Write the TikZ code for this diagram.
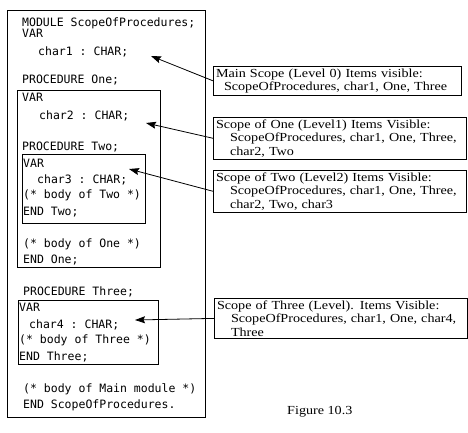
\documentclass[tikz,border=0pt]{standalone}
\usepackage{fontspec}
\setmainfont[FakeStretch=1.15]{Liberation Serif}
\setmonofont{DejaVu Sans Mono}
\usetikzlibrary{arrows, arrows.meta, positioning, calc}
\newcommand{\notefont}{\fontsize{12.3}{13.5}\selectfont\spaceskip=5pt plus 1pt\relax}

\tikzset{
    code/.style={anchor=base west, inner sep=0pt, font=\ttfamily\fontsize{11.5}{14}\selectfont},
    scopebox/.style={draw, line width=1pt, anchor=north west, text width=#1, align=left,
        inner xsep=2.5pt, inner ysep=2pt, font=\notefont},
    pointer/.style={-{Stealth[length=10pt,width=7pt,inset=1.5pt]}, line width=0.8pt},
    frame/.style={line width=1pt}
}

\begin{document}
\begin{tikzpicture}[x=1pt, y=-1pt]
    \useasboundingbox (0,0) rectangle (468,432);

    % Draw the nested scope frames
    \draw[frame] (7,10) rectangle (205,417);
    \draw[frame] (17,90) rectangle (160,267);
    \draw[frame] (22,154) rectangle (145,223);
    \draw[frame] (18,300) rectangle (158,364);

    % Draw the program text
    \foreach \y/\x/\txt in {26/22/MODULE ScopeOfProcedures;, 37/22/VAR, 55/38/char1 : CHAR;,
        83/22/PROCEDURE One;, 101/22/VAR, 119/39/char2 : CHAR;,
        150/22/PROCEDURE Two;, 167/23/VAR, 183/37/char3 : CHAR;, 198/23/(* body of Two *), 215/23/END Two;,
        247/23/(* body of One *), 263/23/END One;,
        295/23/PROCEDURE Three;, 311/19/VAR, 328/29/char4 : CHAR;, 343/19/(* body of Three *), 360/19/END Three;,
        392/23/(* body of Main module *), 408/23/END ScopeOfProcedures.} {
        \node[code] (line\y) at (\x,\y) {\txt};
    }

    % Points the arrows aim at
    \coordinate (main) at (151,56);
    \coordinate (one) at (146,123);
    \coordinate (two) at (129,169);
    \coordinate (three) at (135,320);

    % Add the scope notes
    \node[scopebox=243pt] (mainnote) at (213,66)
        {Main Scope (Level 0) Items visible:\\\hspace*{8pt}ScopeOfProcedures, char1, One, Three};
    \node[scopebox=248pt] (onenote) at (213,117)
        {Scope of One (Level1) Items Visible:\\\hspace*{14pt}ScopeOfProcedures, char1, One, Three,\\\hspace*{14pt}char2, Two};
    \node[scopebox=248pt] (twonote) at (213,170)
        {Scope of Two (Level2) Items Visible:\\\hspace*{14pt}ScopeOfProcedures, char1, One, Three,\\\hspace*{14pt}char2, Two, char3};
    \node[scopebox=248pt] (threenote) at (214,298)
        {Scope of Three (Level). Items Visible:\\\hspace*{14pt}ScopeOfProcedures, char1, One, char4,\\\hspace*{14pt}Three};

    % Draw the arrows
    \draw[pointer] (mainnote.west) -- (main);
    \draw[pointer] (onenote.west) -- (one);
    \draw[pointer] (twonote.west) -- (two);
    \draw[pointer] (threenote.west) -- (three);

    \node[anchor=base west, inner sep=0pt, font=\fontsize{12.3}{14}\selectfont] (caption) at (287,414) {Figure 10.3};
\end{tikzpicture}
\end{document}
